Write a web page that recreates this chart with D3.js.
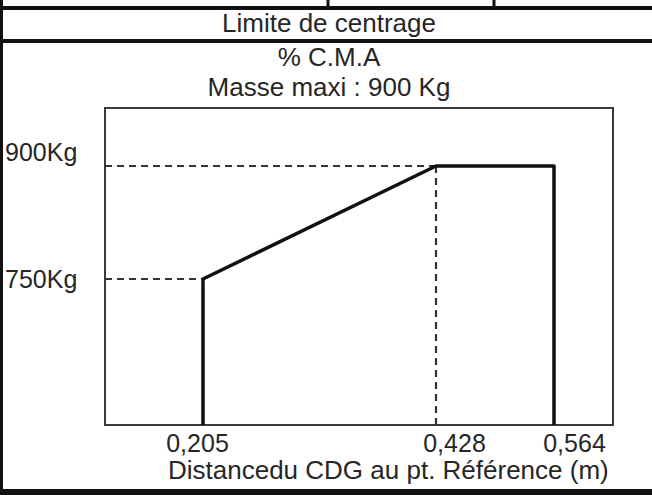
<!DOCTYPE html>
<html>
<head>
<meta charset="utf-8">
<script src="https://cdn.jsdelivr.net/npm/d3@7"></script>
<style>
  body { margin: 0; background: white; }
  text { font-family: "Liberation Sans", Arial, sans-serif; fill: #262626; }
</style>
</head>
<body>
<script>
// data
let cdgTicks = [0.205, 0.428, 0.564]
let cdgLabels = ['0,205', '0,428', '0,564']
let massTicks = [750, 900]
let massLabels = ['750Kg', '900Kg']
// envelope corners: [cdg (m), mass (kg)]
let envelope = [[0.205, 750], [0.428, 900], [0.564, 900]]

let width = 652, height = 495
let box = { left: 105, top: 108, right: 613, bottom: 425 }

let svg = d3.select('body').append('svg')
            .attr('width', width)
            .attr('height', height)

svg.append('rect')
   .attr('width', '100%')
   .attr('height', '100%')
   .attr('fill', 'white')

// the drawing is not to scale, so a piecewise scale through the marked points
let x = d3.scaleLinear()
          .domain(cdgTicks)
          .range([203, 436, 554])

let y = d3.scaleLinear()
          .domain(massTicks)
          .range([279, 166])

// table frame around the chart
let frame = svg.append('g').attr('stroke', '#111')
frame.append('line').attr('x1', 1.5).attr('y1', 0).attr('x2', 1.5).attr('y2', height).attr('stroke-width', 3)
frame.append('line').attr('x1', 0).attr('y1', 8).attr('x2', width).attr('y2', 8).attr('stroke-width', 4)
frame.append('line').attr('x1', 0).attr('y1', 41).attr('x2', width).attr('y2', 41).attr('stroke-width', 4)
frame.append('line').attr('x1', 0).attr('y1', 492).attr('x2', width).attr('y2', 492).attr('stroke-width', 6)
for (let cx of [328, 494]) {
    frame.append('line').attr('x1', cx).attr('y1', 0).attr('x2', cx).attr('y2', 8).attr('stroke-width', 3)
}

let headings = ['Limite de centrage', '% C.M.A', 'Masse maxi : 900 Kg']
let headingY = [32, 66, 96]
svg.selectAll('.heading')
   .data(headings)
   .enter().append('text')
   .attr('class', 'heading')
   .attr('x', 329)
   .attr('y', (d, i) => headingY[i])
   .attr('text-anchor', 'middle')
   .attr('font-size', '26px')
   .text(d => d)

// plot box
svg.append('rect')
   .attr('x', box.left)
   .attr('y', box.top)
   .attr('width', box.right - box.left)
   .attr('height', box.bottom - box.top)
   .attr('fill', 'none')
   .attr('stroke', '#3a3a3a')
   .attr('stroke-width', 2)

// dashed reference lines
let dashed = svg.append('g')
                .attr('stroke', '#333')
                .attr('stroke-width', 2.2)
                .attr('stroke-dasharray', '7,5')

dashed.append('line')
      .attr('x1', box.left).attr('y1', y(900))
      .attr('x2', x(0.428)).attr('y2', y(900))
dashed.append('line')
      .attr('x1', box.left).attr('y1', y(750))
      .attr('x2', x(0.205)).attr('y2', y(750))
dashed.append('line')
      .attr('x1', x(0.428)).attr('y1', y(900))
      .attr('x2', x(0.428)).attr('y2', box.bottom)

// envelope, legs going down to the bottom of the box
let first = envelope[0], last = envelope[envelope.length - 1]
let pts = [[x(first[0]), box.bottom]]
    .concat(envelope.map(d => [x(d[0]), y(d[1])]))
    .concat([[x(last[0]), box.bottom]])

svg.append('path')
   .attr('d', d3.line()(pts))
   .attr('fill', 'none')
   .attr('stroke', '#111')
   .attr('stroke-width', 3.5)
   .attr('stroke-linejoin', 'round')

// mass labels on the left
let massNudge = [9, -5]
svg.selectAll('.mass')
   .data(massTicks)
   .enter().append('text')
   .attr('class', 'mass')
   .attr('x', 5)
   .attr('y', (d, i) => y(d) + massNudge[i])
   .attr('font-size', '25px')
   .text((d, i) => massLabels[i])

// cdg labels under the box
let xAxis = d3.axisBottom(x)
              .tickValues(cdgTicks)
              .tickFormat((d, i) => cdgLabels[i])
              .tickSize(0)

let axisG = svg.append('g')
               .attr('transform', `translate(0,${box.bottom})`)
               .call(xAxis)
axisG.select('.domain').remove()
let tickNudge = [-6, 18, 20]
axisG.selectAll('.tick text')
     .attr('font-family', '"Liberation Sans", Arial, sans-serif')
     .attr('font-size', '25px')
     .attr('fill', '#262626')
     .attr('dy', null)
     .attr('y', 27)
     .attr('dx', (d, i) => tickNudge[i])

svg.append('text')
   .attr('x', 168).attr('y', 479)
   .attr('font-size', '26px')
   .text('Distancedu CDG au pt. Référence (m)')
</script>
</body>
</html>
